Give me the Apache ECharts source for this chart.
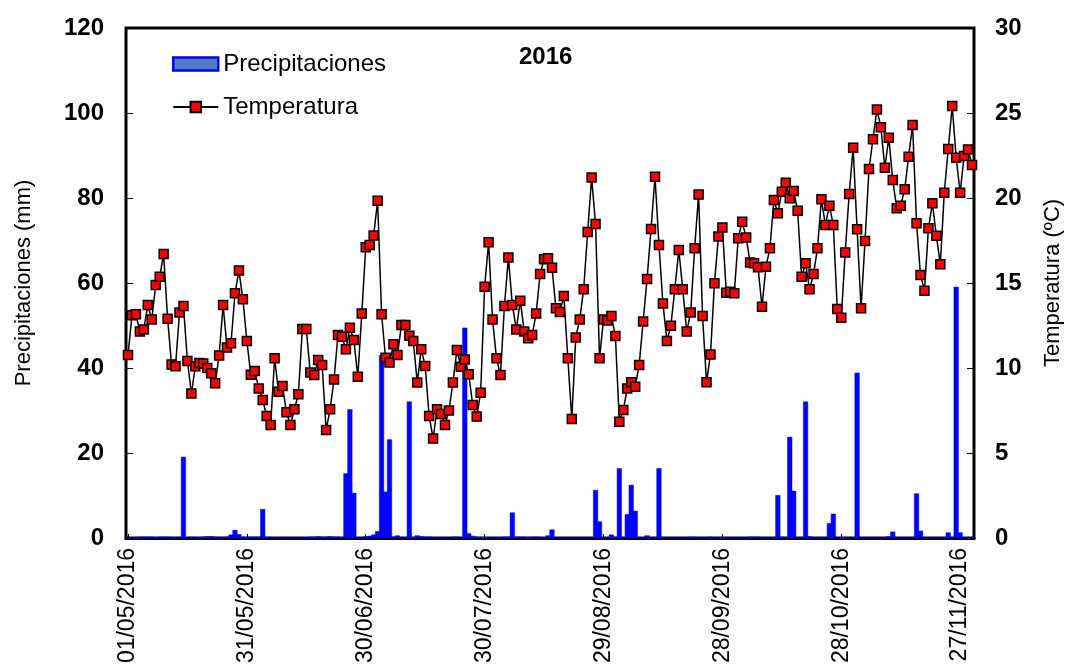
<!DOCTYPE html>
<html>
<head>
<meta charset="utf-8">
<script src="https://cdn.jsdelivr.net/npm/echarts@6/dist/echarts.min.js"></script>
<style>
  html, body { margin: 0; padding: 0; background: #fff; }
  #chart { width: 1072px; height: 671px; }
</style>
</head>
<body>
<div id="chart"></div>
<script>
// Daily precipitation (mm), 01/05/2016 – 30/11/2016
const precipitation = [
  0, 0, 0, 0.3, 0.3, 0.3, 0.3, 0, 0.3, 0.3,
  0.3, 0, 0, 0.2, 19.1, 0, 0.3, 0, 0, 0.3,
  0.4, 0.4, 0.3, 0.2, 0, 0.3, 0.8, 1.9, 0.9, 0.3,
  0, 0.3, 0.3, 0.3, 6.8, 0.3, 0.2, 0, 0, 0,
  0, 0, 0, 0, 0, 0, 0.3, 0.3, 0.4, 0.3,
  0.3, 0.4, 0.3, 0.3, 0, 15.2, 30.3, 10.6, 0, 0,
  0.4, 0.5, 0.8, 1.6, 43, 10.9, 23.2, 0.3, 0.6, 0,
  0, 32.1, 0, 0.6, 0.4, 0.3, 0.3, 0.2, 0, 0,
  0, 0, 0.3, 0.3, 0, 49.5, 1.1, 0.5, 0.3, 0,
  0, 0, 0, 0, 0, 0.3, 0.3, 6.0, 0.3, 0.3,
  0.3, 0, 0.3, 0.3, 0, 0, 0.6, 2.0, 0, 0,
  0, 0, 0, 0, 0, 0, 0, 0, 11.3, 3.9,
  0, 0, 0.8, 0, 16.4, 0, 5.6, 12.5, 6.4, 0,
  0, 0.6, 0, 0, 16.4, 0, 0, 0, 0, 0,
  0, 0, 0.3, 0.3, 0, 0, 0, 0.3, 0, 0,
  0, 0, 0, 0, 0, 0, 0, 0.3, 0.3, 0.3,
  0, 0, 0, 0, 10.1, 0.3, 0, 23.8, 11.1, 0,
  0, 32.1, 0.4, 0, 0, 0, 0, 3.5, 5.7, 0,
  0, 0, 0, 0, 38.9, 0, 0, 0, 0, 0,
  0, 0, 0.4, 1.5, 0, 0, 0, 0, 0, 10.5,
  1.7, 0, 0, 0, 0, 0, 0, 1.3, 0, 59.1,
  1.3, 0, 0, 0
];

// Daily mean temperature (ºC)
const temperature = [
  10.76, 13.1, 13.16, 12.14, 12.27, 13.7, 12.86, 14.88, 15.37, 16.7,
  12.9, 10.2, 10.1, 13.27, 13.65, 10.41, 8.5, 10.1, 10.3, 10.27,
  10.0, 9.69, 9.1, 10.73, 13.7, 11.2, 11.45, 14.39, 15.73, 14.04,
  11.59, 9.6, 9.82, 8.8, 8.12, 7.18, 6.65, 10.57, 8.6, 8.94,
  7.4, 6.65, 7.57, 8.45, 12.29, 12.29, 9.73, 9.59, 10.47, 10.18,
  6.35, 7.57, 9.33, 11.94, 11.84, 11.1, 12.37, 11.65, 9.49, 13.2,
  17.1, 17.24, 17.8, 19.84, 13.16, 10.6, 10.33, 11.39, 10.76, 12.53,
  12.53, 11.9, 11.59, 9.14, 11.1, 10.12, 7.18, 5.86, 7.57, 7.3,
  6.65, 7.5, 9.14, 11.06, 10.08, 10.5, 9.63, 7.82, 7.14, 8.55,
  14.78, 17.39, 12.86, 10.57, 9.59, 13.65, 16.5, 13.7, 12.27, 13.96,
  12.14, 11.75, 11.94, 13.2, 15.53, 16.39, 16.45, 15.9, 13.51, 13.3,
  14.24, 10.57, 7.0, 11.8, 12.86, 14.63, 18.0, 21.2, 18.47, 10.57,
  12.86, 12.8, 13.06, 11.88, 6.84, 7.53, 8.8, 9.16, 8.9, 10.18,
  12.73, 15.24, 18.18, 21.25, 17.24, 13.8, 11.59, 12.49, 14.63, 16.94,
  14.63, 12.14, 13.27, 17.04, 20.2, 13.06, 9.16, 10.8, 14.98, 17.73,
  18.27, 14.43, 14.49, 14.4, 17.63, 18.6, 17.68, 16.2, 16.16, 15.92,
  13.6, 15.96, 17.04, 19.88, 19.1, 20.37, 20.9, 19.98, 20.41, 19.25,
  15.37, 16.16, 14.63, 15.53, 17.04, 19.92, 18.41, 19.55, 18.41, 13.47,
  12.96, 16.8, 20.24, 22.96, 18.16, 13.51, 17.47, 21.7, 23.45, 25.2,
  24.16, 21.78, 23.55, 21.06, 19.39, 19.55, 20.51, 22.43, 24.29, 18.51,
  15.47, 14.55, 18.22, 19.69, 17.78, 16.1, 20.31, 22.88, 25.41, 22.37,
  20.31, 22.47, 22.86, 21.94
];

// Dates shown on the horizontal axis
const tickLabels = [
  '01/05/2016', '31/05/2016', '30/06/2016', '30/07/2016',
  '29/08/2016', '28/09/2016', '28/10/2016', '27/11/2016'
];

const seriesNames = ['Precipitaciones', 'Temperatura'];
const chartTitle = '2016';

// One category per day, starting on 1 May 2016
function pad(n) { return (n < 10 ? '0' : '') + n; }
const days = [];
for (let i = 0; i < temperature.length; i++) {
  const d = new Date(Date.UTC(2016, 4, 1 + i));
  days.push(pad(d.getUTCDate()) + '/' + pad(d.getUTCMonth() + 1) + '/' + d.getUTCFullYear());
}
const showTick = (idx, value) => tickLabels.indexOf(value) !== -1;

const font = '"Liberation Sans", Arial, Helvetica, sans-serif';

const chart = echarts.init(document.getElementById('chart'), null, { renderer: 'canvas' });
chart.setOption({
  animation: false,
  backgroundColor: '#ffffff',
  title: {
    text: chartTitle,
    left: 514,
    top: 40,
    textStyle: { fontFamily: font, fontSize: 24, fontWeight: 'bold', color: '#000' }
  },
  legend: {
    orient: 'vertical',
    left: 167,
    top: 46,
    itemWidth: 45,
    itemHeight: 13,
    itemGap: 17,
    textStyle: { fontFamily: font, fontSize: 24, color: '#000', lineHeight: 26 },
    data: [
      { name: seriesNames[0], icon: 'rect',
        itemStyle: { color: '#5081c2', borderColor: '#0000ff', borderWidth: 2.5 } },
      { name: seriesNames[1] }
    ]
  },
  grid: {
    left: 126, right: 95, top: 28, bottom: 133,
    show: true, borderColor: '#000', borderWidth: 3, backgroundColor: 'transparent'
  },
  xAxis: {
    type: 'category',
    data: days,
    boundaryGap: true,
    axisLine: { show: true, lineStyle: { color: '#000', width: 3 } },
    axisTick: { show: true, inside: true, length: 4, alignWithLabel: true, interval: showTick,
                lineStyle: { color: '#000', width: 1 } },
    axisLabel: { interval: showTick, rotate: 90, margin: 10, fontFamily: font, fontSize: 23, color: '#000' },
    splitLine: { show: false }
  },
  yAxis: [
    {
      type: 'value', position: 'left', min: 0, max: 120, interval: 20,
      name: 'Precipitaciones (mm)', nameLocation: 'middle', nameGap: 91,
      nameTextStyle: { fontFamily: font, fontSize: 22, color: '#000' },
      axisLine: { show: false },
      axisTick: { show: true, inside: true, length: 7, lineStyle: { color: '#000', width: 1 } },
      axisLabel: { margin: 22, fontFamily: font, fontSize: 24, fontWeight: 'bold', color: '#000' },
      splitLine: { show: false }
    },
    {
      type: 'value', position: 'right', min: 0, max: 30, interval: 5,
      name: 'Temperatura (ºC)', nameLocation: 'middle', nameGap: 68,
      nameTextStyle: { fontFamily: font, fontSize: 22, color: '#000' },
      axisLine: { show: false },
      axisTick: { show: true, inside: true, length: 7, lineStyle: { color: '#000', width: 1 } },
      axisLabel: { margin: 21, fontFamily: font, fontSize: 24, fontWeight: 'bold', color: '#000' },
      splitLine: { show: false }
    }
  ],
  series: [
    {
      name: seriesNames[0],
      type: 'bar',
      yAxisIndex: 0,
      data: precipitation,
      barWidth: 5,
      itemStyle: { color: '#0000ff', borderColor: '#0000ff', borderWidth: 0.5 },
      z: 2
    },
    {
      name: seriesNames[1],
      type: 'line',
      yAxisIndex: 1,
      data: temperature,
      symbol: 'rect',
      symbolSize: 9,
      showAllSymbol: true,
      lineStyle: { color: '#000', width: 1.5 },
      itemStyle: { color: '#ff0000', borderColor: '#000', borderWidth: 1.5 },
      z: 3
    }
  ]
});
</script>
</body>
</html>
